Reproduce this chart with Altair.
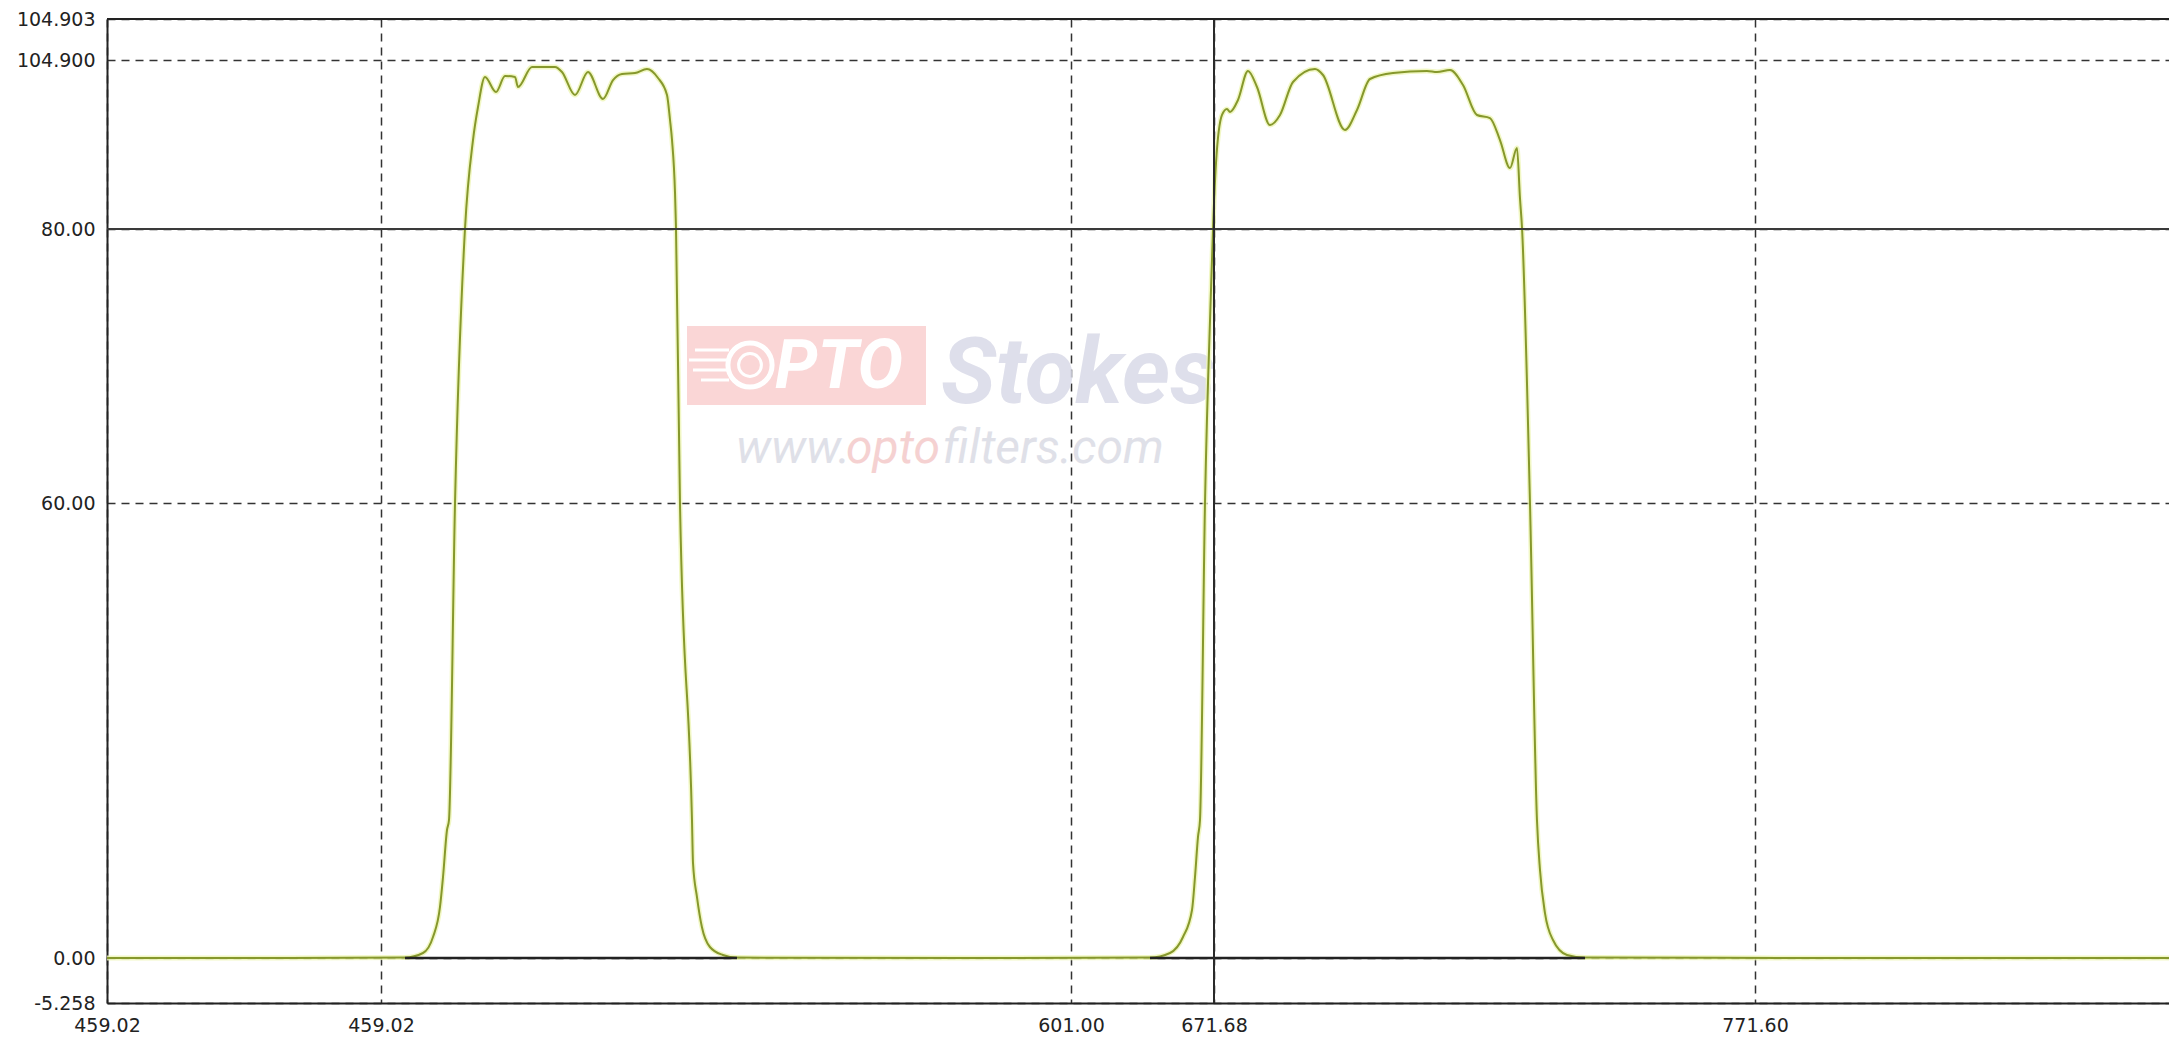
import altair as alt
import pandas as pd

# ---------------- data ----------------
x_domain = [402.6, 459.02, 601.00, 671.68, 771.60, 848.1]
x_tick_values = [402.6, 459.02, 601.00, 671.68, 771.60]
x_tick_labels = ["459.02", "459.02", "601.00", "671.68", "771.60"]

y_domain = [-5.258, 0.0, 60.0, 80.0, 104.900, 104.903]
y_tick_values = [-5.258, 0.0, 60.0, 80.0, 104.900, 104.903]
y_tick_labels = ["-5.258", "0.00", "60.00", "80.00", "104.900", "104.903"]

wavelength = [
    402.6, 440.0, 463.96, 467.66, 469.72, 471.16, 471.78, 472.60, 473.01, 474.25,
    476.30, 477.95, 478.98, 480.42, 482.68, 484.54, 486.59, 487.21, 490.09, 494.82,
    496.26, 498.94, 501.61, 504.70, 506.76, 508.61, 511.29, 513.75, 516.02, 517.87,
    518.49, 518.90, 519.52, 519.72, 520.54, 523.01, 523.22, 524.04, 525.05, 526.70,
    529.37, 532.27, 580.0, 640.05, 649.93, 656.36, 660.81, 662.29, 663.77, 664.76,
    667.23, 670.20, 671.19, 672.05, 673.16, 674.08, 674.64, 676.11, 677.96, 679.62,
    682.02, 683.87, 686.27, 690.33, 691.81, 695.87, 698.09, 700.49, 704.74, 711.02,
    712.87, 715.27, 717.67, 720.25, 722.65, 724.50, 726.35, 727.64, 728.19, 728.56,
    730.04, 731.33, 731.89, 732.81, 734.29, 736.87, 740.20, 800.0, 848.1,
]
transmission = [
    0.0, 0.0, 0.05, 0.66, 2.77, 6.73, 10.68, 16.88, 18.2, 60.0,
    80.0, 93.11, 97.97, 102.40, 100.18, 102.54, 102.40, 100.92, 103.87, 103.87,
    103.13, 99.74, 103.13, 99.15, 101.95, 102.84, 102.98, 103.57, 102.25, 99.74,
    96.06, 93.11, 85.30, 80.15, 60.0, 18.2, 12.53, 8.04, 4.09, 1.45,
    0.40, 0.05, 0.0, 0.05, 0.66, 2.77, 6.33, 10.68, 15.96, 18.2,
    60.0, 75.55, 80.0, 89.72, 96.80, 97.68, 97.24, 99.01, 103.28, 100.92,
    95.32, 96.80, 101.66, 103.57, 102.69, 94.59, 97.53, 102.10, 102.98, 103.28,
    103.13, 103.43, 101.22, 96.80, 96.35, 93.11, 88.98, 91.93, 84.56, 80.29,
    60.0, 18.2, 11.60, 5.93, 2.37, 0.40, 0.05, 0.0, 0.0,
]
baseline_start = [463.96, 640.05]
baseline_end = [532.27, 740.20]
cursor_x = 671.68
cursor_y = 80.0
top_value = 104.903

# ---------------- helpers ----------------
def label_expr(values, labels):
    expr = "''"
    for v, l in reversed(list(zip(values, labels))):
        expr = f"abs(datum.value - ({v})) < 1e-6 ? '{l}' : ({expr})"
    return expr

W, H = 2062, 984
FONT = "DejaVu Sans"

x_scale = alt.Scale(domain=x_domain, range=[0, 274, 964, 1107, 1648, W], nice=False, zero=False)
y_scale = alt.Scale(domain=y_domain, range=[H, 939, 484, 210, 41, 0], nice=False, zero=False)

x_axis = alt.Axis(
    values=x_tick_values, labelExpr=label_expr(x_tick_values, x_tick_labels), title=None,
    grid=True, gridDash=[8, 6], gridColor="#333333", gridWidth=1.5,
    domainColor="#222222", domainWidth=2, ticks=False,
    labelFont=FONT, labelFontSize=19, labelColor="#222222", labelPadding=13,
    labelFlush=False, labelOverlap=False,
)
y_axis = alt.Axis(
    values=y_tick_values, labelExpr=label_expr(y_tick_values, y_tick_labels), title=None,
    grid=True, gridDash=[8, 6], gridColor="#333333", gridWidth=1.5,
    domainColor="#222222", domainWidth=2, ticks=False,
    labelFont=FONT, labelFontSize=19, labelColor="#222222", labelPadding=12,
    labelFlush=False, labelOverlap=False,
)

one = pd.DataFrame({"a": [0]})

# ---------------- watermark ----------------
wm = []
wm.append(alt.Chart(one).mark_rect(color="#f9cfcf", opacity=0.85).encode(
    x=alt.value(580), x2=alt.value(819), y=alt.value(307), y2=alt.value(386)))
for yy, x1 in [(331, 588), (341, 582), (351, 586), (361, 594)]:
    wm.append(alt.Chart(one).mark_rule(color="white", strokeWidth=3).encode(
        x=alt.value(x1), x2=alt.value(622), y=alt.value(yy)))
wm.append(alt.Chart(one).mark_point(shape="circle", filled=False, color="white",
                                    strokeWidth=5, size=1950, opacity=1).encode(
    x=alt.value(643), y=alt.value(346)))
wm.append(alt.Chart(one).mark_point(shape="circle", filled=False, color="white",
                                    strokeWidth=3, size=520, opacity=1).encode(
    x=alt.value(643), y=alt.value(346)))
wm.append(alt.Chart(one).mark_text(text="PTO", font="Roboto", fontStyle="italic",
                                   fontWeight="bold", fontSize=68, color="white",
                                   align="left", baseline="alphabetic").encode(
    x=alt.value(668), y=alt.value(369)))
wm.append(alt.Chart(one).mark_text(text="Stokes", font="Roboto", fontStyle="italic",
                                   fontWeight="bold", fontSize=92, color="#d9dae8",
                                   opacity=0.85, align="left", baseline="alphabetic").encode(
    x=alt.value(834), y=alt.value(384)))
for txt, xx, col in [("www.", 629, "#dcdde6"), ("opto", 739, "#f5cdcd"), ("filters.com", 836, "#dcdde6")]:
    wm.append(alt.Chart(one).mark_text(text=txt, font="Roboto", fontStyle="italic",
                                       fontSize=48, color=col, opacity=0.9,
                                       align="left", baseline="alphabetic").encode(
        x=alt.value(xx), y=alt.value(444)))

# ---------------- curve ----------------
df = pd.DataFrame({"wl": wavelength, "T": transmission})
halo = alt.Chart(df).mark_line(color="#eef5b5", strokeWidth=5, opacity=0.8,
                               interpolate="monotone").encode(
    x=alt.X("wl:Q", scale=x_scale, axis=x_axis),
    y=alt.Y("T:Q", scale=y_scale, axis=y_axis),
)
curve = alt.Chart(df).mark_line(color="#86982c", strokeWidth=2,
                                interpolate="monotone").encode(
    x=alt.X("wl:Q", scale=x_scale, axis=x_axis),
    y=alt.Y("T:Q", scale=y_scale, axis=y_axis),
)

bdf = pd.DataFrame({"s": baseline_start, "e": baseline_end})
base = alt.Chart(bdf).mark_rule(color="#222222", strokeWidth=2.5).encode(
    x=alt.X("s:Q", scale=x_scale), x2="e:Q", y=alt.Y(datum=0.0, scale=y_scale),
)

vcur = alt.Chart(one).mark_rule(color="#2a2a2a", strokeWidth=2).encode(
    x=alt.X(datum=cursor_x, scale=x_scale))
hcur = alt.Chart(one).mark_rule(color="#3a3a3a", strokeWidth=2).encode(
    y=alt.Y(datum=cursor_y, scale=y_scale))
top = alt.Chart(one).mark_rule(color="#222222", strokeWidth=2).encode(
    y=alt.Y(datum=top_value, scale=y_scale))

chart = alt.layer(*wm, halo, curve, base, hcur, vcur, top).properties(
    width=W, height=H, autosize="none",
    padding={"left": 99, "top": 11, "right": 0, "bottom": 40},
    background="white",
).configure_view(stroke=None)

chart.save("out.html", embed_options={"renderer": "svg", "actions": False})
